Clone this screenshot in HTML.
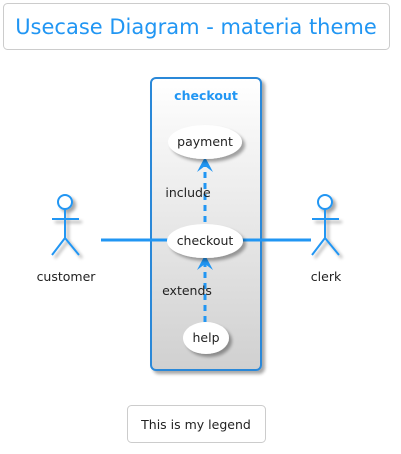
<!DOCTYPE html>
<html><head><meta charset="utf-8"><style>
html,body{margin:0;padding:0;background:#fff;}
svg{display:block;}
text{font-family:"DejaVu Sans","Liberation Sans",sans-serif;}
</style></head><body>
<svg width="401" height="454" viewBox="0 0 401 454" xmlns="http://www.w3.org/2000/svg">
<defs>
<linearGradient id="g" x1="0" y1="0" x2="0" y2="1"><stop offset="0" stop-color="#ffffff"/><stop offset="1" stop-color="#d0d0d0"/></linearGradient>
<filter id="sh" x="-30%" y="-30%" width="160%" height="160%"><feGaussianBlur in="SourceAlpha" stdDeviation="1.5"/><feOffset dx="3" dy="3"/><feComponentTransfer><feFuncA type="linear" slope="0.35"/></feComponentTransfer><feMerge><feMergeNode/><feMergeNode in="SourceGraphic"/></feMerge></filter>
</defs>
<rect x="3.5" y="3.5" width="386" height="46" rx="4" fill="#fff" stroke="#ccc"/>
<text x="196" y="34" font-size="21" fill="#2196F3" text-anchor="middle">Usecase Diagram - materia theme</text>

<rect x="151" y="78" width="110" height="292" rx="5" fill="url(#g)" stroke="#2A88D8" stroke-width="2" filter="url(#sh)"/>
<text x="206" y="100" font-size="12.5" font-weight="bold" fill="#2196F3" text-anchor="middle">checkout</text>

<line x1="101" y1="240" x2="170" y2="240" stroke="#2196F3" stroke-width="3"/>
<line x1="240" y1="240" x2="311" y2="240" stroke="#2196F3" stroke-width="3"/>

<line x1="205" y1="222" x2="205" y2="162" stroke="#2196F3" stroke-width="3" stroke-dasharray="6,5"/>
<path d="M205 157 L197 172 L205 166 L213 172 Z" fill="#2196F3"/>
<line x1="205" y1="322" x2="205" y2="260" stroke="#2196F3" stroke-width="3" stroke-dasharray="6,5"/>
<path d="M205 255 L197 270 L205 264 L213 270 Z" fill="#2196F3"/>
<text x="188" y="197" font-size="12.5" fill="#222" text-anchor="middle">include</text>
<text x="187" y="295" font-size="12.5" fill="#222" text-anchor="middle">extends</text>

<ellipse cx="205" cy="142" rx="37" ry="17" fill="#fff" filter="url(#sh)"/>
<text x="205" y="146" font-size="12.5" fill="#222" text-anchor="middle">payment</text>
<ellipse cx="205" cy="241" rx="38" ry="17" fill="#fff" filter="url(#sh)"/>
<text x="205" y="245" font-size="12.5" fill="#222" text-anchor="middle">checkout</text>
<ellipse cx="206" cy="338" rx="23" ry="16" fill="#fff" filter="url(#sh)"/>
<text x="206" y="342" font-size="12.5" fill="#222" text-anchor="middle">help</text>

<g stroke="#2196F3" stroke-width="2" fill="#fff" filter="url(#sh)">
<circle cx="65" cy="202" r="7"/>
<path d="M65 209 V238 M52 219 H79 M52 255 L65 238 L79 255" fill="none"/>
</g>
<text x="66" y="281" font-size="12.5" fill="#222" text-anchor="middle">customer</text>
<g stroke="#2196F3" stroke-width="2" fill="#fff" filter="url(#sh)">
<circle cx="325" cy="202" r="7"/>
<path d="M325 209 V238 M312 219 H339 M312 255 L325 238 L339 255" fill="none"/>
</g>
<text x="326" y="281" font-size="12.5" fill="#222" text-anchor="middle">clerk</text>

<rect x="127.5" y="405.5" width="138" height="37" rx="4" fill="#fff" stroke="#ccc"/>
<text x="196" y="429" font-size="12.5" fill="#222" text-anchor="middle">This is my legend</text>
</svg>
</body></html>
